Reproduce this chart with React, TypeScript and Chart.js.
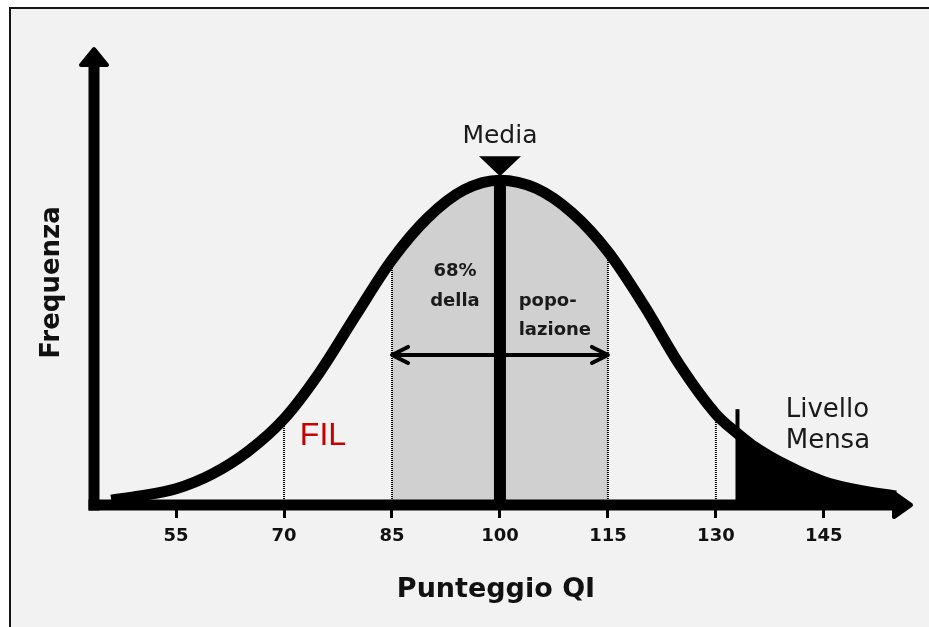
import React, { useEffect, useRef } from 'react';
import { Chart, registerables } from 'chart.js';

Chart.register(...registerables);

// ---- data ----
const iqScores = [46, 50, 55, 60, 65, 70, 75, 80, 85, 90, 95, 100, 105, 110, 115, 120, 125, 130, 133, 135, 140, 145, 150, 155];
const frequency = [1.5, 2.8, 5, 9.5, 16.5, 26.5, 41, 58.5, 75.5, 88.5, 97, 100, 97.5, 90, 78, 61.5, 43, 28, 22, 18.5, 12, 7.2, 4.5, 2.8];
const tickValues = [55, 70, 85, 100, 115, 130, 145];
const dottedScores = [70, 85, 115, 130];
const meanScore = 100;
const bandRange = [85, 115];
const mensaScore = 133;
const mensaMarkerTop = 29.5;
const spreadArrowLevel = 46.2;

// ---- texts ----
const xTitle = 'Punteggio QI';
const yTitle = 'Frequenza';
const meanLabel = 'Media';
const bandLeftLines = ['68%', 'della'];
const bandRightLines = ['popo-', 'lazione'];
const filLabel = 'FIL';
const mensaLines = ['Livello', 'Mensa'];

// ---- annotation anchors (data units) ----
const bandLeftAnchor = { x: 93.75, y: [70.5, 61.3] };
const bandRightAnchor = { x: 102.6, y: [61.3, 52.3] };
const filAnchor = { x: 72.2, y: 18.5 };
const mensaAnchor = { x: 139.7, y: [27.2, 17.5] };

const FONT = "'DejaVu Sans', Verdana, sans-serif";
const INK = '#111111';

const freqAt = (s: number) => frequency[iqScores.indexOf(s)];
const points = iqScores.map((s, i) => ({ x: s, y: frequency[i] }));

const decorPlugin = {
  id: 'iqDecor',
  afterDatasetsDraw(chart: any) {
    const { ctx, chartArea: ca, scales } = chart;
    const xs = scales.x;
    const ys = scales.y;
    ctx.save();
    ctx.fillStyle = '#000';
    ctx.strokeStyle = '#000';

    // axes
    const aw = 11;
    const x0 = ca.left;
    const yb = ca.bottom;
    ctx.fillRect(x0 - aw / 2, ca.top + 3, aw, yb - ca.top - 3 + aw / 2);
    ctx.fillRect(x0 - aw / 2, yb - aw / 2, ca.right - 2 - (x0 - aw / 2), aw);
    ctx.lineJoin = 'round';
    ctx.lineWidth = 4;
    ctx.beginPath();
    ctx.moveTo(x0, ca.top - 11);
    ctx.lineTo(x0 + 13, ca.top + 5);
    ctx.lineTo(x0 - 13, ca.top + 5);
    ctx.closePath();
    ctx.fill();
    ctx.stroke();
    ctx.beginPath();
    ctx.moveTo(ca.right + 13, yb);
    ctx.lineTo(ca.right - 4, yb - 12);
    ctx.lineTo(ca.right - 4, yb + 12);
    ctx.closePath();
    ctx.fill();
    ctx.stroke();

    // mean marker triangle
    const mx = xs.getPixelForValue(meanScore);
    const apex = ys.getPixelForValue(freqAt(meanScore)) - 4;
    ctx.beginPath();
    ctx.moveTo(mx - 21, apex - 20);
    ctx.lineTo(mx + 21, apex - 20);
    ctx.lineTo(mx, apex);
    ctx.closePath();
    ctx.lineWidth = 1;
    ctx.fill();

    // spread arrow heads
    const ya = ys.getPixelForValue(spreadArrowLevel);
    const xl = xs.getPixelForValue(bandRange[0]);
    const xr = xs.getPixelForValue(bandRange[1]);
    ctx.lineWidth = 4;
    ctx.lineCap = 'round';
    ctx.beginPath();
    ctx.moveTo(xl + 16, ya - 8);
    ctx.lineTo(xl, ya);
    ctx.lineTo(xl + 16, ya + 8);
    ctx.moveTo(xr - 16, ya - 8);
    ctx.lineTo(xr, ya);
    ctx.lineTo(xr - 16, ya + 8);
    ctx.stroke();

    // texts
    ctx.fillStyle = '#1a1a1a';
    ctx.textBaseline = 'alphabetic';
    ctx.textAlign = 'center';
    ctx.font = `25px ${FONT}`;
    ctx.fillText(meanLabel, mx, apex - 33);

    ctx.font = `bold 18px ${FONT}`;
    bandLeftLines.forEach((t, i) => {
      ctx.fillText(t, xs.getPixelForValue(bandLeftAnchor.x), ys.getPixelForValue(bandLeftAnchor.y[i]));
    });
    ctx.textAlign = 'left';
    bandRightLines.forEach((t, i) => {
      ctx.fillText(t, xs.getPixelForValue(bandRightAnchor.x), ys.getPixelForValue(bandRightAnchor.y[i]));
    });

    ctx.font = `26px ${FONT}`;
    mensaLines.forEach((t, i) => {
      ctx.fillText(t, xs.getPixelForValue(mensaAnchor.x), ys.getPixelForValue(mensaAnchor.y[i]));
    });

    ctx.fillStyle = '#c40000';
    ctx.font = `32px 'Liberation Sans', Arial, sans-serif`;
    ctx.fillText(filLabel, xs.getPixelForValue(filAnchor.x), ys.getPixelForValue(filAnchor.y));
    ctx.restore();
  },
};

export default function App() {
  const ref = useRef<HTMLCanvasElement>(null);

  useEffect(() => {
    const canvas = ref.current;
    if (!canvas) return;

    const line = (data: any[], opts: any) => ({
      data,
      pointRadius: 0,
      pointHoverRadius: 0,
      fill: false,
      ...opts,
    });

    const datasets: any[] = [
      line(points.filter((p) => p.x >= bandRange[0] && p.x <= bandRange[1]), {
        borderWidth: 0,
        fill: 'origin',
        backgroundColor: '#d0d0d0',
        cubicInterpolationMode: 'monotone',
        order: 10,
      }),
      line(points.filter((p) => p.x >= mensaScore), {
        borderWidth: 0,
        fill: 'origin',
        backgroundColor: '#000',
        cubicInterpolationMode: 'monotone',
        order: 10,
      }),
      ...dottedScores.map((s) =>
        line([{ x: s, y: 0 }, { x: s, y: freqAt(s) }], {
          borderColor: '#000',
          borderWidth: 2,
          borderDash: [1, 1],
          order: 8,
        })
      ),
      line(points, {
        borderColor: '#000',
        borderWidth: 11,
        borderJoinStyle: 'round',
        cubicInterpolationMode: 'monotone',
        order: 5,
      }),
      line([{ x: meanScore, y: 0 }, { x: meanScore, y: freqAt(meanScore) }], {
        borderColor: '#000',
        borderWidth: 12,
        order: 3,
      }),
      line([{ x: mensaScore, y: 0 }, { x: mensaScore, y: mensaMarkerTop }], {
        borderColor: '#000',
        borderWidth: 4,
        order: 3,
      }),
      line([{ x: bandRange[0], y: spreadArrowLevel }, { x: bandRange[1], y: spreadArrowLevel }], {
        borderColor: '#000',
        borderWidth: 4,
        order: 2,
      }),
    ];

    const chart = new Chart(canvas, {
      type: 'line',
      data: { datasets },
      plugins: [decorPlugin],
      options: {
        responsive: false,
        animation: false,
        devicePixelRatio: 1,
        layout: { padding: { top: 60, right: 31, bottom: 0, left: 0 } },
        plugins: { legend: { display: false }, tooltip: { enabled: false } },
        events: [],
        scales: {
          x: {
            type: 'linear',
            min: 43.6,
            max: 155.3,
            afterBuildTicks: (axis: any) => {
              axis.ticks = tickValues.map((v) => ({ value: v }));
            },
            afterFit: (s: any) => {
              s.height = 122;
            },
            border: { display: false },
            grid: {
              display: true,
              drawOnChartArea: false,
              drawTicks: true,
              tickLength: 13,
              tickWidth: 3,
              tickColor: '#000',
            },
            ticks: {
              autoSkip: false,
              maxRotation: 0,
              padding: 8,
              color: INK,
              font: { family: FONT, size: 18, weight: 'bold' },
            },
            title: {
              display: true,
              text: xTitle,
              color: INK,
              font: { family: FONT, size: 27, weight: 'bold' },
              padding: { top: 0, bottom: 21 },
            },
          },
          y: {
            type: 'linear',
            min: 0,
            max: 137,
            afterFit: (s: any) => {
              s.width = 94;
            },
            border: { display: false },
            grid: { display: false },
            ticks: { display: false },
            title: {
              display: true,
              text: yTitle,
              color: INK,
              font: { family: FONT, size: 26, weight: 'bold' },
              padding: { top: 37, bottom: 0 },
            },
          },
        },
      } as any,
    });
    return () => chart.destroy();
  }, []);

  return (
    <div style={{ position: 'fixed', left: 0, top: 0, width: 929, height: 627, background: '#ffffff', overflow: 'hidden' }}>
      <div
        style={{
          position: 'absolute',
          left: 9,
          top: 7,
          right: 0,
          bottom: 0,
          borderTop: '2px solid #151515',
          borderLeft: '2px solid #151515',
          background: '#f2f2f2',
        }}
      />
      <canvas ref={ref} width={929} height={627} style={{ position: 'absolute', left: 0, top: 0, width: 929, height: 627 }} />
    </div>
  );
}
